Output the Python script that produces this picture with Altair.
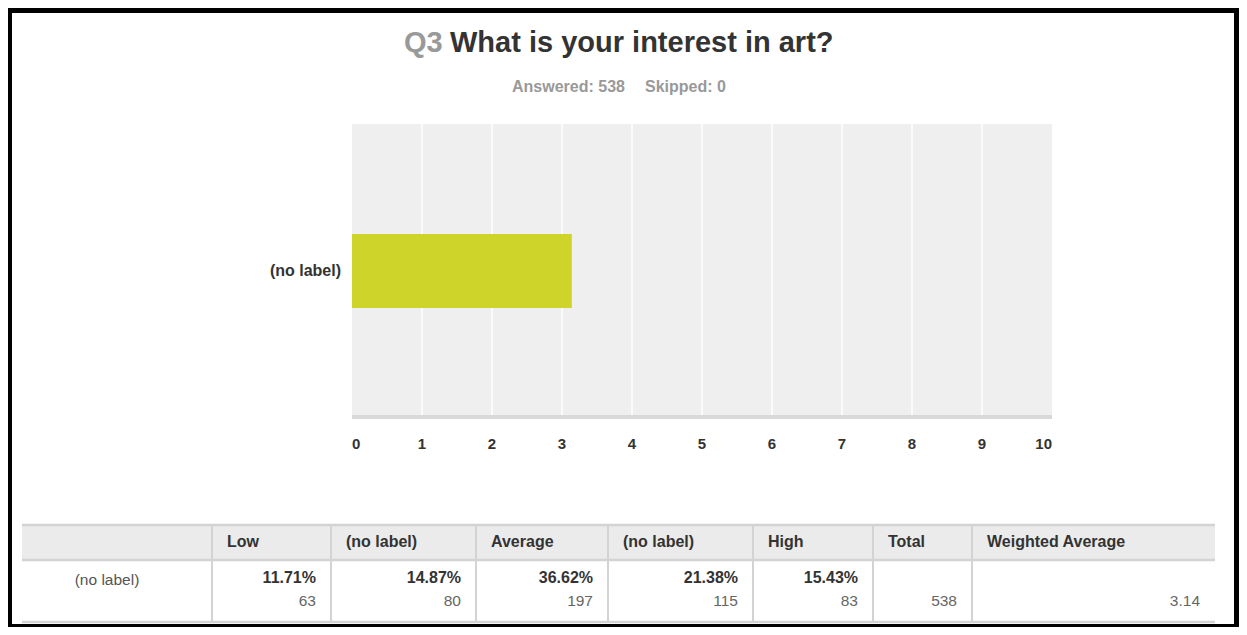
import altair as alt
import pandas as pd

# ---------------- data ----------------
question_no = "Q3"
question = "What is your interest in art?"
answered = 538
skipped = 0

bar_categories = ["(no label)"]
bar_values = [3.14]
x_tick_values = [0, 1, 2, 3, 4, 5, 6, 7, 8, 9, 10]

table_headers = ["", "Low", "(no label)", "Average", "(no label)", "High", "Total", "Weighted Average"]
row_label = "(no label)"
answer_percents = [11.71, 14.87, 36.62, 21.38, 15.43]
answer_counts = [63, 80, 197, 115, 83]
total_count = 538
weighted_average = 3.14

# ---------------- layout (chart pixel coords) ----------------
W, H = 1231, 619
PLOT_X0, PLOT_X1 = 344, 1044
PLOT_Y0, PLOT_Y1 = 116, 407
BAR_Y0, BAR_Y1 = 226, 300
TICK_Y = 436
YLABEL_X = 333
COL_WIDTHS = [190, 119, 145, 132, 145, 120, 99, 243]
TABLE_X0 = 14
TABLE_TOP, TABLE_MID, TABLE_BOT = 517, 552, 614
HEADER_TEXT_Y = 534
PCT_Y, COUNT_Y = 570, 593
ROWLABEL_OFFSET = 85
CELL_PAD = 15

FONT = "Liberation Sans"
DARK = "#333333"
GREY = "#999999"
BAR_COLOR = "#ced42a"
PLOT_BG = "#efefef"
LINE = "#d3d3d3"

# ---------------- bar chart part ----------------
bar_df = pd.DataFrame({"label": bar_categories, "value": bar_values})
tick_df = pd.DataFrame({"v": x_tick_values})
box_df = pd.DataFrame({"lo": [min(x_tick_values)], "hi": [max(x_tick_values)]})

xs = alt.Scale(domain=[min(x_tick_values), max(x_tick_values)], range=[PLOT_X0, PLOT_X1], nice=False, zero=False)
ys = alt.Scale(domain=bar_categories, range=[BAR_Y0, BAR_Y1], paddingInner=0, paddingOuter=0)

bg = alt.Chart(box_df).mark_rect(color=PLOT_BG).encode(
    x=alt.X("lo:Q", scale=xs, axis=None), x2="hi:Q",
    y=alt.value(PLOT_Y0), y2=alt.value(PLOT_Y1),
)
base_band = alt.Chart(box_df).mark_rect(color="#d9d9d9").encode(
    x=alt.X("lo:Q", scale=xs, axis=None), x2="hi:Q",
    y=alt.value(PLOT_Y1), y2=alt.value(PLOT_Y1 + 4),
)
grid = alt.Chart(tick_df).mark_rule(color="white", strokeWidth=1.5).transform_filter(
    (alt.datum.v > min(x_tick_values)) & (alt.datum.v < max(x_tick_values))
).encode(
    x=alt.X("v:Q", scale=xs, axis=None),
    y=alt.value(PLOT_Y0), y2=alt.value(PLOT_Y1),
)
bars = alt.Chart(bar_df).mark_bar(color=BAR_COLOR).encode(
    x=alt.X("value:Q", scale=xs, axis=None),
    y=alt.Y("label:N", scale=ys, axis=None),
)
ylabels = alt.Chart(bar_df).mark_text(
    align="right", baseline="middle", font=FONT, fontSize=16, fontWeight="bold", color=DARK
).encode(
    x=alt.value(YLABEL_X),
    y=alt.Y("label:N", scale=ys, axis=None),
    text="label:N",
)

def tick_layer(cond, align):
    return alt.Chart(tick_df).mark_text(
        align=align, baseline="middle", font=FONT, fontSize=15, fontWeight="bold", color=DARK
    ).transform_filter(cond).encode(
        x=alt.X("v:Q", scale=xs, axis=None),
        y=alt.value(TICK_Y),
        text=alt.Text("v:Q", format="d"),
    )

ticks_first = tick_layer(alt.datum.v == min(x_tick_values), "left")
ticks_mid = tick_layer((alt.datum.v > min(x_tick_values)) & (alt.datum.v < max(x_tick_values)), "center")
ticks_last = tick_layer(alt.datum.v == max(x_tick_values), "right")

bar_part = alt.layer(bg, base_band, grid, bars, ylabels, ticks_first, ticks_mid, ticks_last)

# ---------------- table part ----------------
edges = [0]
for w in COL_WIDTHS:
    edges.append(edges[-1] + w)
TABLE_W = edges[-1]

pct_strings = [""] + [f"{p:.2f}%" for p in answer_percents] + ["", ""]
count_strings = [""] + [str(c) for c in answer_counts] + [str(total_count), f"{weighted_average:.2f}"]
cols_df = pd.DataFrame({
    "header": table_headers,
    "left": edges[:-1],
    "right": edges[1:],
    "pct": pct_strings,
    "count": count_strings,
})
tbox_df = pd.DataFrame({"lo": [0], "hi": [TABLE_W]})
vline_df = pd.DataFrame({"e": edges[1:-1]})
hline_df = pd.DataFrame({"y": [TABLE_TOP, TABLE_MID, TABLE_BOT]})
rowlabel_df = pd.DataFrame({"t": [row_label], "left": [0]})

tx = alt.Scale(domain=[0, TABLE_W], range=[TABLE_X0, TABLE_X0 + TABLE_W], nice=False, zero=False)

head_bg = alt.Chart(tbox_df).mark_rect(color="#ebebeb").encode(
    x=alt.X("lo:Q", scale=tx, axis=None), x2="hi:Q",
    y=alt.value(TABLE_TOP), y2=alt.value(TABLE_MID),
)
hlines = alt.Chart(hline_df).mark_rule(color=LINE, strokeWidth=2.5).encode(
    x=alt.value(TABLE_X0), x2=alt.value(TABLE_X0 + TABLE_W),
    y=alt.Y("y:Q", scale=None, axis=None),
)
vlines = alt.Chart(vline_df).mark_rule(color=LINE, strokeWidth=2).encode(
    x=alt.X("e:Q", scale=tx, axis=None),
    y=alt.value(TABLE_TOP), y2=alt.value(TABLE_BOT),
)
head_text = alt.Chart(cols_df).mark_text(
    align="left", baseline="middle", dx=CELL_PAD, font=FONT, fontSize=16, fontWeight="bold", color=DARK
).encode(
    x=alt.X("left:Q", scale=tx, axis=None),
    y=alt.value(HEADER_TEXT_Y),
    text="header:N",
)
pct_text = alt.Chart(cols_df).mark_text(
    align="right", baseline="middle", dx=-CELL_PAD, font=FONT, fontSize=16, fontWeight="bold", color=DARK
).encode(
    x=alt.X("right:Q", scale=tx, axis=None),
    y=alt.value(PCT_Y),
    text="pct:N",
)
count_text = alt.Chart(cols_df).mark_text(
    align="right", baseline="middle", dx=-CELL_PAD, font=FONT, fontSize=15.5, color="#666666"
).encode(
    x=alt.X("right:Q", scale=tx, axis=None),
    y=alt.value(COUNT_Y),
    text="count:N",
)
row_text = alt.Chart(rowlabel_df).mark_text(
    align="center", baseline="middle", dx=ROWLABEL_OFFSET, font=FONT, fontSize=15.5, color="#555555"
).encode(
    x=alt.X("left:Q", scale=tx, axis=None),
    y=alt.value(PCT_Y + 2),
    text="t:N",
)

table_part = alt.layer(head_bg, vlines, hlines, head_text, pct_text, count_text, row_text)

# ---------------- titles ----------------
def label(text, x, y, size, color, weight="bold", align="left"):
    return alt.Chart(pd.DataFrame({"t": [text]})).mark_text(
        align=align, baseline="alphabetic", font=FONT, fontSize=size, fontWeight=weight, color=color
    ).encode(x=alt.value(x), y=alt.value(y), text="t:N")

t_q = label(question_no, 396, 44, 29, GREY)
t_main = label(question, 442, 44, 29, DARK)
t_ans = label(f"Answered: {answered}", 504, 84, 16, GREY)
t_skip = label(f"Skipped: {skipped}", 637, 84, 16, GREY)

# ---------------- frame ----------------
frame_df = pd.DataFrame({"k": [0]})

def frame_rect(x0, x1, y0, y1):
    return alt.Chart(frame_df).mark_rect(color="black").encode(
        x=alt.value(x0), x2=alt.value(x1), y=alt.value(y0), y2=alt.value(y1)
    )

frame = alt.layer(
    frame_rect(0, W, 0, 5),
    frame_rect(0, 4, 0, H),
    frame_rect(W - 5, W, 0, H),
    frame_rect(0, W, H - 3, H),
)

chart = alt.layer(bar_part, table_part, t_q, t_main, t_ans, t_skip, frame).resolve_scale(
    x="independent", y="independent"
).properties(
    width=W, height=H, autosize="none", padding=0, background="white"
).configure_view(
    stroke=None
)

chart.save("out.html", embed_options={"renderer": "svg", "actions": False})
